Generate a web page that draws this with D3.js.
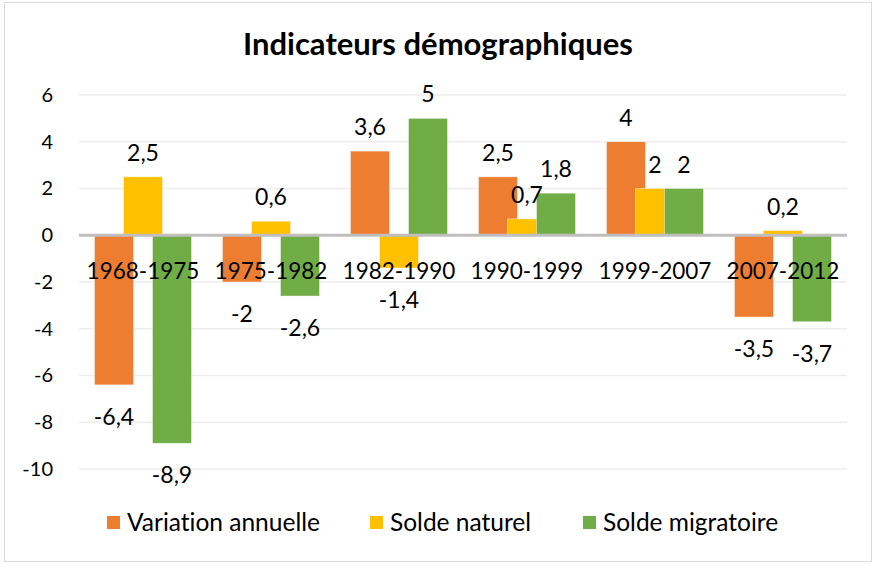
<!DOCTYPE html>
<html>
<head>
<meta charset="utf-8">
<script src="https://cdn.jsdelivr.net/npm/d3@7"></script>
<style>
  html, body { margin: 0; padding: 0; background: #fff; }
  svg { display: block; font-family: Lato, "Open Sans", sans-serif; font-variant-ligatures: none; }
</style>
</head>
<body>
<svg id="chart" width="875" height="564"></svg>
<script>
const title = "Indicateurs démographiques";
const categories = ["1968-1975", "1975-1982", "1982-1990", "1990-1999", "1999-2007", "2007-2012"];
const seriesNames = ["Variation annuelle", "Solde naturel", "Solde migratoire"];
const seriesColors = ["#ED7D31", "#FFC000", "#70AD47"];
const variationAnnuelle = [-6.4, -2, 3.6, 2.5, 4, -3.5];
const soldeNaturel = [2.5, 0.6, -1.4, 0.7, 2, 0.2];
const soldeMigratoire = [-8.9, -2.6, 5, 1.8, 2, -3.7];
const yTicks = [-10, -8, -6, -4, -2, 0, 2, 4, 6];

const seriesValues = [variationAnnuelle, soldeNaturel, soldeMigratoire];

const svg = d3.select("#chart");
const plot = { left: 79, right: 847, top: 95, bottom: 469 };

// outer border
svg.append("rect").attr("x", 4.5).attr("y", 2.5).attr("width", 867).attr("height", 559)
  .attr("fill", "#fff").attr("stroke", "#D9D9D9").attr("stroke-width", 1);

// title
svg.append("text").attr("x", 438).attr("y", 55).attr("text-anchor", "middle")
  .attr("font-size", 31).attr("font-weight", "bold").attr("fill", "#000").text(title);

const x = d3.scaleBand().domain(categories).range([plot.left, plot.right]).padding(0);
const y = d3.scaleLinear().domain([-10, 6]).range([plot.bottom, plot.top]);

// gridlines
svg.append("g").selectAll("line").data(yTicks.filter(t => t !== 0)).join("line")
  .attr("x1", plot.left).attr("x2", plot.right)
  .attr("y1", d => y(d)).attr("y2", d => y(d))
  .attr("stroke", "#EDEDED").attr("stroke-width", 1.3);

// y axis labels
const yAxis = d3.axisLeft(y).tickValues(yTicks).tickSize(0).tickPadding(0).tickFormat(d => String(d));
const gy = svg.append("g").attr("transform", `translate(53,0)`).call(yAxis);
gy.select(".domain").remove();
gy.selectAll("text").attr("font-size", 20).attr("fill", "#000").attr("font-family", "Lato, sans-serif");

// bars
const barW = 39, step = 29;
const fmt = v => String(v).replace(".", ",");
seriesValues.forEach((vals, si) => {
  const off = (si - 1) * step;
  svg.append("g").selectAll("rect").data(vals).join("rect")
    .attr("x", (d, i) => x(categories[i]) + x.bandwidth() / 2 + off - barW / 2)
    .attr("width", barW)
    .attr("y", d => Math.min(y(d), y(0)))
    .attr("height", d => Math.abs(y(d) - y(0)))
    .attr("fill", seriesColors[si])
    .attr("stroke", "rgba(255,255,255,0.5)").attr("stroke-width", 0.8);
});

// zero axis
svg.append("line").attr("x1", plot.left).attr("x2", plot.right)
  .attr("y1", y(0)).attr("y2", y(0)).attr("stroke", "#BFBFBF").attr("stroke-width", 3);

// category labels (drawn over bars)
svg.append("g").selectAll("text").data(categories).join("text")
  .attr("x", d => x(d) + x.bandwidth() / 2).attr("y", 279)
  .attr("text-anchor", "middle").attr("font-size", 22.5).attr("fill", "#000").text(d => d);

// data labels
seriesValues.forEach((vals, si) => {
  const off = (si - 1) * step;
  svg.append("g").selectAll("text").data(vals).join("text")
    .attr("x", (d, i) => x(categories[i]) + x.bandwidth() / 2 + off)
    .attr("y", d => d >= 0 ? y(d) - 16 : y(d) + 40)
    .attr("text-anchor", "middle").attr("font-size", 23).attr("fill", "#000")
    .text(d => fmt(d));
});

// legend
const legendX = [107, 370, 583];
const lg = svg.append("g");
seriesNames.forEach((name, i) => {
  lg.append("rect").attr("x", legendX[i]).attr("y", 516).attr("width", 13).attr("height", 13)
    .attr("fill", seriesColors[i]);
  lg.append("text").attr("x", legendX[i] + 20).attr("y", 531)
    .attr("font-size", 24.5).attr("fill", "#000").text(name);
});
</script>
</body>
</html>
